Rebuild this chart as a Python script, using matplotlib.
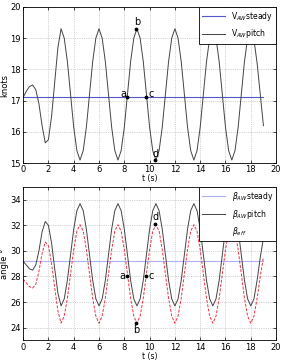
import numpy as np
import matplotlib
matplotlib.use('Agg')
from matplotlib import pyplot as plt

plt.rcParams['font.size'] = 6
plt.rcParams['xtick.direction'] = 'in'
plt.rcParams['ytick.direction'] = 'in'

# time axis, sampled every 0.25 s
t = np.arange(0, 19.001, 0.25)

# apparent wind speed with pitch (knots)
v_pitch = [17.10, 17.30, 17.45, 17.50, 17.35, 16.90, 16.20, 15.65, 15.75, 16.50, 17.60, 18.70,
           19.30, 19.00, 18.25, 17.20, 16.15, 15.40, 15.10, 15.40, 16.15, 17.20, 18.25, 19.00,
           19.30, 19.00, 18.25, 17.20, 16.15, 15.40, 15.10, 15.40, 16.15, 17.20, 18.25, 19.00,
           19.30, 19.00, 18.25, 17.20, 16.15, 15.40, 15.10, 15.40, 16.15, 17.20, 18.25, 19.00,
           19.30, 19.00, 18.25, 17.20, 16.15, 15.40, 15.10, 15.40, 16.15, 17.20, 18.25, 19.00,
           19.30, 19.00, 18.25, 17.20, 16.15, 15.40, 15.10, 15.40, 16.15, 17.20, 18.25, 19.00,
           19.25, 18.95, 18.20, 17.20, 16.20]
v_steady = 17.13

# apparent wind angle with pitch (deg)
b_pitch = [29.20, 28.90, 28.60, 28.50, 28.90, 30.00, 31.50, 32.30, 32.00, 30.60, 28.60, 26.70,
           25.70, 26.25, 27.70, 29.70, 31.70, 33.15, 33.70, 33.15, 31.70, 29.70, 27.70, 26.25,
           25.70, 26.25, 27.70, 29.70, 31.70, 33.15, 33.70, 33.15, 31.70, 29.70, 27.70, 26.25,
           25.70, 26.25, 27.70, 29.70, 31.70, 33.15, 33.70, 33.15, 31.70, 29.70, 27.70, 26.25,
           25.70, 26.25, 27.70, 29.70, 31.70, 33.15, 33.70, 33.15, 31.70, 29.70, 27.70, 26.25,
           25.70, 26.25, 27.70, 29.70, 31.70, 33.15, 33.70, 33.15, 31.70, 29.70, 27.70, 26.25,
           25.70, 26.25, 27.70, 29.50, 31.00]
# effective angle
b_eff = [27.80, 27.50, 27.20, 27.10, 27.40, 28.40, 29.80, 30.70, 30.40, 29.00, 27.10, 25.30,
         24.35, 24.90, 26.30, 28.20, 30.10, 31.55, 32.05, 31.55, 30.10, 28.20, 26.30, 24.90,
         24.35, 24.90, 26.30, 28.20, 30.10, 31.55, 32.05, 31.55, 30.10, 28.20, 26.30, 24.90,
         24.35, 24.90, 26.30, 28.20, 30.10, 31.55, 32.05, 31.55, 30.10, 28.20, 26.30, 24.90,
         24.35, 24.90, 26.30, 28.20, 30.10, 31.55, 32.05, 31.55, 30.10, 28.20, 26.30, 24.90,
         24.35, 24.90, 26.30, 28.20, 30.10, 31.55, 32.05, 31.55, 30.10, 28.20, 26.30, 24.90,
         24.35, 24.90, 26.30, 28.00, 29.50]
b_steady = 29.2

# marked points a-d
pt_names = ['a', 'b', 'c', 'd']
pt_t = [8.25, 8.95, 9.7, 10.45]
pt_v = [17.13, 19.3, 17.13, 15.1]
pt_b = [28.0, 24.4, 28.0, 32.1]

fig = plt.figure(figsize=(2.82, 3.61), dpi=100)
ax1 = fig.add_axes([0.082, 0.548, 0.897, 0.433])
ax2 = fig.add_axes([0.082, 0.057, 0.897, 0.425])

for ax in (ax1, ax2):
    ax.set_xlim(0, 20)
    ax.set_xticks(np.arange(0, 21, 2))
    ax.grid(True, linestyle=':', color='#aaaaaa', linewidth=0.5)
    ax.tick_params(top=True, right=True, length=2.5, width=0.5, pad=1.5, labelsize=6)
    for s in ax.spines.values():
        s.set_linewidth(0.6)
    ax.set_xlabel('t (s)', labelpad=0, fontsize=5.5)

# top panel
ax1.plot([t[0], t[-1]], [v_steady, v_steady], color='#5555cc', lw=0.8, label=r'V$_{AW}$steady')
ax1.plot(t, v_pitch, color='#444444', lw=0.7, label=r'V$_{AW}$pitch')
ax1.set_ylim(15, 20)
ax1.set_yticks(np.arange(15, 21, 1))
ax1.set_ylabel('knots', labelpad=1)
ax1.plot(pt_t, pt_v, 'k.', ms=3.5)
offs1 = [(-0.35, 0.08), (0.05, 0.2), (0.45, 0.08), (0.0, 0.2)]
for n, x, y, o in zip(pt_names, pt_t, pt_v, offs1):
    ax1.text(x + o[0], y + o[1], n, fontsize=7, ha='center', va='center')
leg1 = ax1.legend(loc='upper right', fontsize=5.5, handlelength=3, fancybox=False,
                  framealpha=1, edgecolor='black', borderaxespad=0, labelspacing=0.6)
leg1.get_frame().set_linewidth(0.6)

# bottom panel
ax2.plot([t[0], t[-1]], [b_steady, b_steady], color='#b0b0ee', lw=0.8, label=r'$\beta_{AW}$steady')
ax2.plot(t, b_pitch, color='#444444', lw=0.7, label=r'$\beta_{AW}$pitch')
ax2.plot(t, b_eff, color='#ee3344', lw=0.7, ls=(0, (3, 1.5)), label=r'$\beta_{eff}$')
ax2.set_ylim(23, 35)
ax2.set_yticks(np.arange(24, 35, 2))
ax2.set_ylabel('angle °', labelpad=1)
ax2.plot(pt_t, pt_b, 'k.', ms=3.5)
offs2 = [(-0.4, 0.05), (0.0, -0.55), (0.45, 0.05), (0.05, 0.55)]
for n, x, y, o in zip(pt_names, pt_t, pt_b, offs2):
    ax2.text(x + o[0], y + o[1], n, fontsize=7, ha='center', va='center')
leg2 = ax2.legend(loc='upper right', fontsize=5.5, handlelength=3, fancybox=False,
                  framealpha=1, edgecolor='black', borderaxespad=0, labelspacing=0.6)
leg2.get_frame().set_linewidth(0.6)
leg2.get_lines()[2].set_visible(False)

fig.savefig('out.png', dpi=100)
